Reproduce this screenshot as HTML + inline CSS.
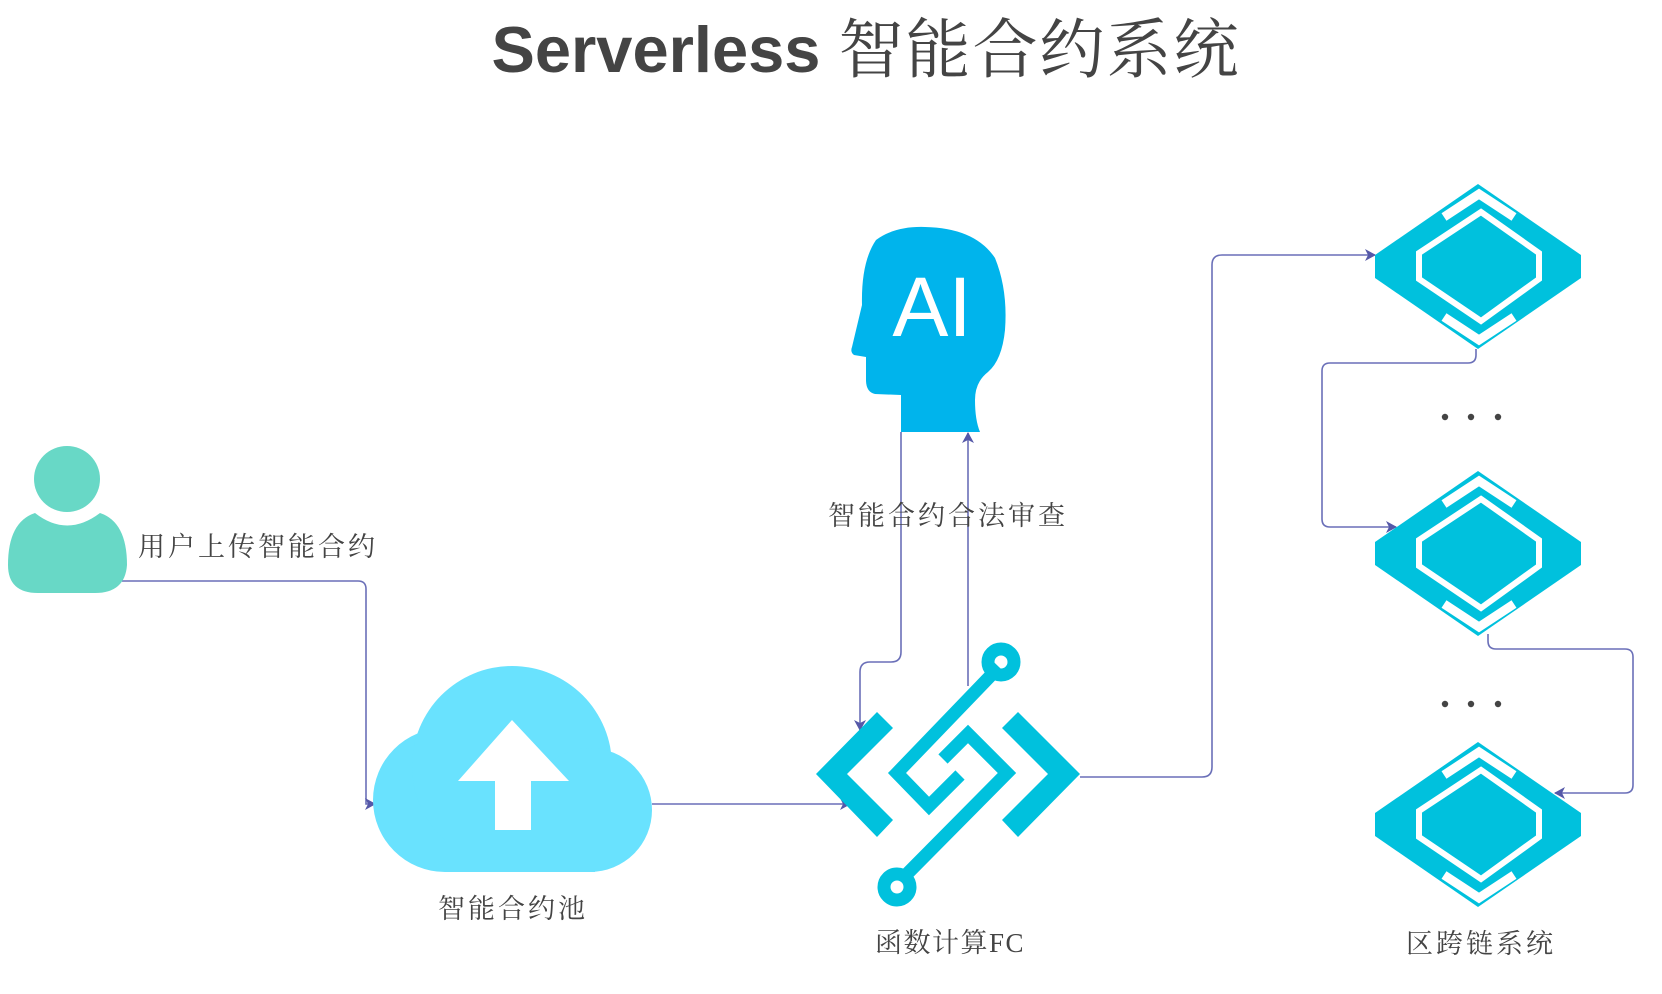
<!DOCTYPE html>
<html><head><meta charset="utf-8"><style>
html,body{margin:0;padding:0;background:#fff;}
svg{display:block;}
.lbl{font-family:"Liberation Serif","Noto Serif CJK SC",serif;font-size:27px;fill:#444;letter-spacing:3px;}
</style></head><body>
<svg width="1662" height="994" viewBox="0 0 1662 994" xmlns="http://www.w3.org/2000/svg">
<defs>
<marker id="ar" markerWidth="12" markerHeight="12" refX="10" refY="6" orient="auto" markerUnits="userSpaceOnUse">
<path d="M0,0 L11,6 L0,12 L3,6 Z" fill="#5558a8"/>
</marker>
<g id="dia">
<path d="M0,0 L103,71 L103,94 L0,165 L-103,94 L-103,71 Z" fill="#00c1dd"/>
<path d="M3,28 L61,69 L61,95 L3,137 L-59,95 L-59,69 Z" fill="none" stroke="#fff" stroke-width="6" stroke-linejoin="miter"/>
<path d="M-34,33 L1,10 L36,33" fill="none" stroke="#fff" stroke-width="9"/>
<path d="M-34,133 L1,156 L36,133" fill="none" stroke="#fff" stroke-width="9"/>
</g>
</defs>

<text x="866" y="72" text-anchor="middle" font-family="Liberation Sans,'Noto Sans CJK SC',sans-serif" font-size="65" fill="#444"><tspan font-weight="bold">Serverless </tspan><tspan font-family="'Noto Serif CJK SC',serif" font-weight="normal" letter-spacing="2">智能合约系统</tspan></text>

<!-- connectors -->
<g fill="none" stroke="#6a6fb8" stroke-width="1.6">
<path d="M122,581 H358 Q366,581 366,589 V804 H375" marker-end="url(#ar)"/>
<path d="M652,804 H850" marker-end="url(#ar)"/>
<path d="M901,432 V652 Q901,662 891,662 H870 Q860,662 860,672 V730" marker-end="url(#ar)"/>
<path d="M968,686 V433" marker-end="url(#ar)"/>
<path d="M1080,777 H1202 Q1212,777 1212,767 V265 Q1212,255 1222,255 H1375" marker-end="url(#ar)"/>
<path d="M1476,349 V355 Q1476,363 1468,363 H1330 Q1322,363 1322,371 V519 Q1322,527 1330,527 H1396" marker-end="url(#ar)"/>
<path d="M1488,634 V641 Q1488,649 1496,649 H1625 Q1633,649 1633,657 V785 Q1633,793 1625,793 H1555" marker-end="url(#ar)"/>
</g>

<!-- person -->
<circle cx="67" cy="479" r="33" fill="#68d8c6"/>
<path d="M35,513 Q67,538 100,513 Q127,522 127,565 Q125,593 95,593 H38 Q8,593 8,565 Q8,522 35,513 Z" fill="#68d8c6"/>
<text class="lbl" x="138" y="556">用户上传智能合约</text>

<!-- cloud -->
<g fill="#69e2fe">
<circle cx="445" cy="800" r="72"/>
<circle cx="512" cy="766" r="100"/>
<circle cx="590" cy="810" r="62"/>
<rect x="445" y="790" width="150" height="82"/>
</g>
<path d="M512,720 L569,781 L531,781 L531,830 L495,830 L495,781 L458,781 Z" fill="#fff"/>
<text class="lbl" x="438" y="918">智能合约池</text>

<!-- AI head -->
<path d="M901,432 L901,395 L875,394 Q866,392 866,380 L866,357 L854,355 Q850,352 852,347 L862,305 Q861,262 876,240 Q895,226 925,227 Q975,228 995,258 Q1008,290 1005,330 Q1002,360 988,372 Q975,382 975,400 Q975,420 980,432 Z" fill="#00b4ec"/>
<text x="932" y="336" text-anchor="middle" font-family="Liberation Sans,sans-serif" font-size="84" fill="#fff">AI</text>
<text class="lbl" x="828" y="525">智能合约合法审查</text>

<!-- FC icon -->
<g fill="#00c1dd">
<path d="M877,712 L893,728 L847,774 L893,820 L877,837 L816,774 Z"/>
<path d="M1018,712 L1002,728 L1048,774 L1002,820 L1018,837 L1080,774 Z"/>
</g>
<g fill="none" stroke="#00c1dd" stroke-width="13" stroke-linejoin="miter" stroke-miterlimit="10">
<polyline points="999,667 897,773 929,806 960,775"/>
<polyline points="943,759 968,734 1007,773 903,878"/>
<circle cx="1001" cy="662" r="13"/>
<circle cx="897" cy="887" r="13"/>
</g>
<text class="lbl" x="875" y="952" style="letter-spacing:1.5px">函数计算FC</text>

<!-- blockchain diamonds -->
<use href="#dia" x="1478" y="184"/>
<use href="#dia" x="1478" y="471"/>
<use href="#dia" x="1478" y="742"/>
<g fill="#444">
<circle cx="1445" cy="417" r="3.2"/><circle cx="1471" cy="417" r="3.2"/><circle cx="1498" cy="417" r="3.2"/>
<circle cx="1445" cy="704" r="3.2"/><circle cx="1471" cy="704" r="3.2"/><circle cx="1498" cy="704" r="3.2"/>
</g>
<text class="lbl" x="1406" y="953">区跨链系统</text>
</svg>
</body></html>
